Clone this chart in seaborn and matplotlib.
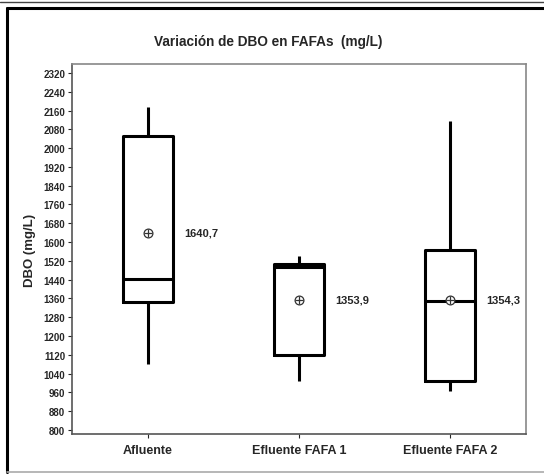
import matplotlib
matplotlib.use("Agg")
import matplotlib.pyplot as plt
from matplotlib.lines import Line2D
import seaborn as sns
import pandas as pd

# five-number summaries (min, q1, median, q3, max)
groups = ["Afluente", "Efluente FAFA 1", "Efluente FAFA 2"]
afluente = [1079, 1344, 1441, 2050, 2174]
fafa1 = [1007, 1118, 1492, 1505, 1539]
fafa2 = [965, 1010, 1349, 1566, 2115]
means = [1640.7, 1353.9, 1354.3]
mean_labels = ["1640,7", "1353,9", "1354,3"]
yticks = list(range(800, 2321, 80))

df = pd.DataFrame({
    "grupo": [groups[0]] * 5 + [groups[1]] * 5 + [groups[2]] * 5,
    "DBO": afluente + fafa1 + fafa2,
})

sns.set_style("white")
plt.rcParams["font.family"] = ["Liberation Sans Narrow", "Liberation Sans", "DejaVu Sans"]
plt.rcParams["font.weight"] = "bold"

fig = plt.figure(figsize=(5.44, 4.77), dpi=100)
ax = fig.add_axes([72 / 544, 1 - 435 / 477, 454 / 544, 370 / 477])

lw = 2.2
sns.boxplot(data=df, x="grupo", y="DBO", order=groups, whis=(0, 100),
            width=0.33, color="black", linewidth=lw,
            showcaps=False, fill=False, ax=ax)
sns.scatterplot(x=groups, y=means, marker="o", s=40, facecolor="white",
                edgecolor="#333333", linewidth=0.9, ax=ax, zorder=5)
sns.scatterplot(x=groups, y=means, marker="+", s=40, color="#333333",
                linewidth=0.9, ax=ax, zorder=6)

for i, (m, lab) in enumerate(zip(means, mean_labels)):
    ax.text(i + 0.24, m, lab, fontsize=8, fontweight="bold", va="center", ha="left")

ax.set_xlim(-0.5, 2.5)
ax.set_ylim(783, 2358)
ax.set_yticks(yticks)
ax.set_yticklabels([str(v) for v in yticks], fontsize=7, fontweight="bold")
ax.tick_params(axis="x", labelsize=9, length=3, width=0.8, pad=4)
ax.tick_params(axis="y", length=3, width=0.8, pad=2)
ax.tick_params(left=True, bottom=True, direction="out")
for lab in ax.get_xticklabels():
    lab.set_fontweight("bold")
ax.set_xlabel("")
ax.set_ylabel("DBO (mg/L)", fontsize=9.5, fontweight="bold", labelpad=5)
for s in ["left", "bottom"]:
    ax.spines[s].set_color("#555555")
    ax.spines[s].set_linewidth(1.2)
for s in ["top", "right"]:
    ax.spines[s].set_color("#888888")
    ax.spines[s].set_linewidth(1.2)

fig.text(268 / 544, 1 - 42 / 477, "Variación de DBO en FAFAs  (mg/L)",
         fontsize=9.8, fontweight="bold", ha="center", va="center")

# outer frame of the original picture
fig.add_artist(Line2D([0, 1], [1 - 3 / 477, 1 - 3 / 477], color="#444444", lw=1.0))
fig.add_artist(Line2D([7 / 544, 1], [1 - 9 / 477, 1 - 9 / 477], color="black", lw=2.2))
fig.add_artist(Line2D([7 / 544, 7 / 544], [1 - 9 / 477, 1 - 473 / 477], color="black", lw=2.2))
fig.add_artist(Line2D([7 / 544, 1], [1 - 473 / 477, 1 - 473 / 477], color="#aaaaaa", lw=1.2))

fig.savefig("out.png", dpi=100)
